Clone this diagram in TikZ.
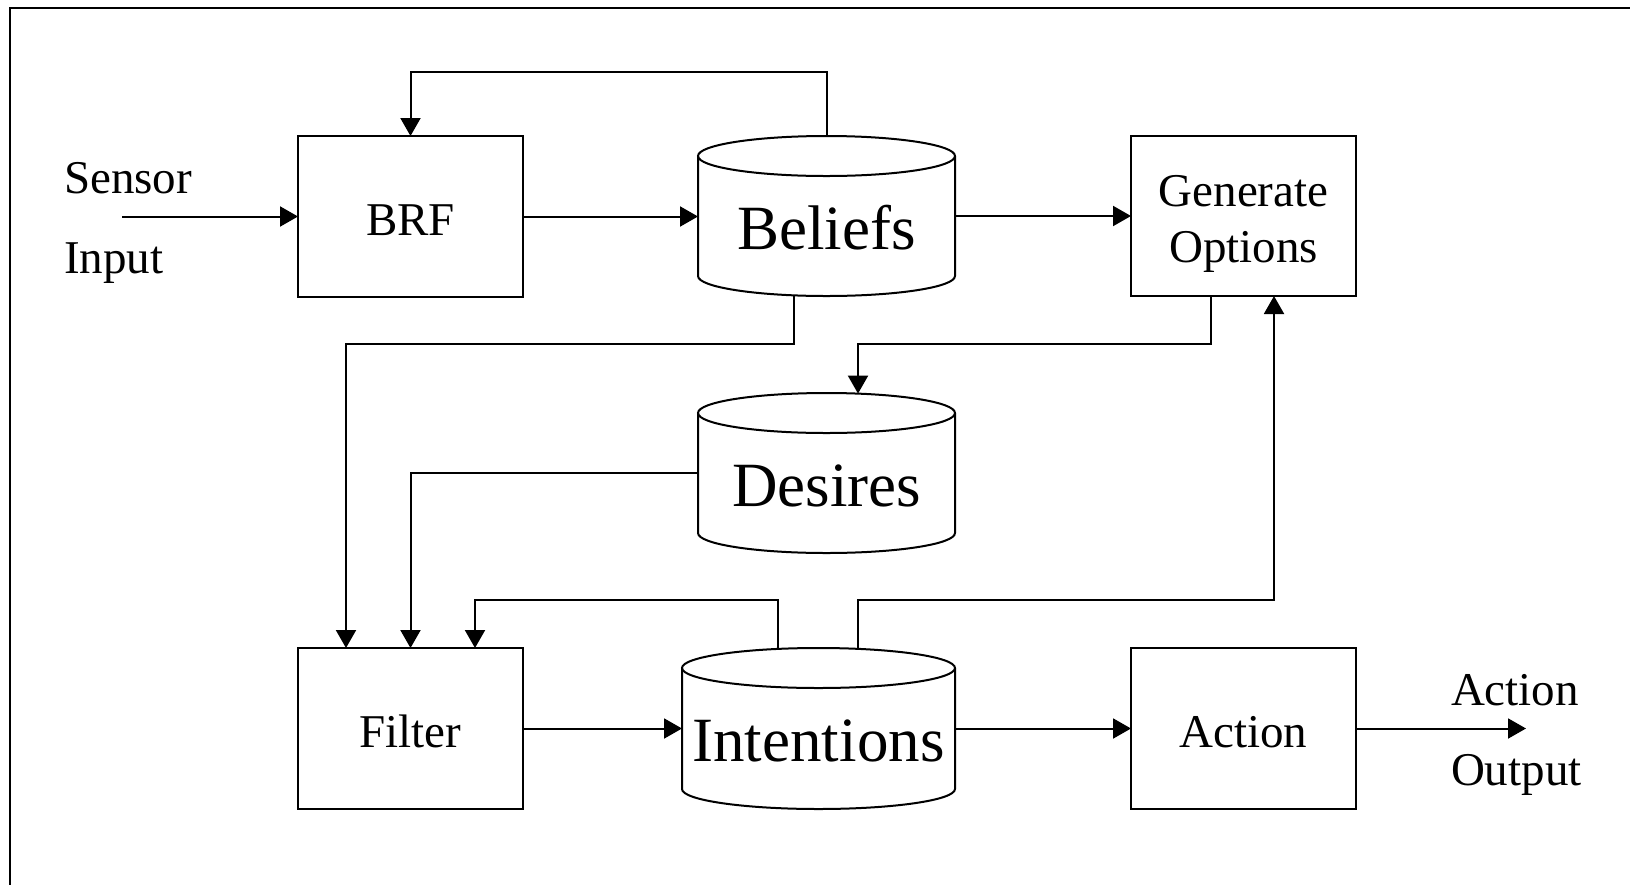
\documentclass[tikz,border=0pt]{standalone}
\usepackage{fontspec}
\setmainfont{Liberation Serif}
\usetikzlibrary{arrows.meta,calc}

% outline of a data store drawn round a named rectangle node:
% #1 node name, #2 half width of the ellipse
\newcommand\storeoutline[2]{%
  \draw ($(#1.north west)+(0,20)$) -- ($(#1.south west)+(0,-20)$)
     arc[start angle=180, end angle=360, x radius=#2, y radius=10pt]
     -- ($(#1.north east)+(0,20)$);
  \draw ($(#1.north)+(0,20)$) ellipse[x radius=#2, y radius=10pt];
}

\begin{document}
\begin{tikzpicture}[x=0.5pt, y=-0.5pt, line width=1pt,
  conn/.style={-{Triangle[length=9pt,width=10pt]}},
  proc/.style={draw, rectangle, minimum width=112.5pt, minimum height=80.5pt,
    inner sep=0pt, outer sep=0pt, font=\fontsize{23.5}{27.5}\selectfont},
  oneline/.style={text height=18.5pt, text depth=0pt},
  store/.style={rectangle, minimum height=80pt, inner sep=0pt, outer sep=0pt,
    text height=33pt, text depth=0pt, font=\fontsize{31.5}{36}\selectfont},
  plain/.style={anchor=base west, inner sep=0pt, font=\fontsize{23.5}{27.5}\selectfont}]

\useasboundingbox (0,0) rectangle (1630,885);
\draw[line width=1.3pt] (1630,8) -- (10,8) -- (10,885);

% process boxes
\node[proc, oneline] (brf) at (410.5,216.5) {BRF};
\node[proc, minimum height=80pt, align=center] (gen) at (1243.5,216)
  {\rule{0pt}{23pt}Generate\\[0.5pt]Options};
\node[proc, oneline] (fil) at (410.5,728.5) {Filter};
\node[proc, oneline] (act) at (1243.5,728.5) {Action};

% data stores
\node[store, minimum width=128.5pt] (bel) at (826.5,216) {Beliefs};
\node[store, minimum width=128.5pt] (des) at (826.5,473) {Desires};
\node[store, minimum width=136.5pt, minimum height=80.5pt] (int) at (818.5,728.5) {Intentions};
\storeoutline{bel}{64.25pt}
\storeoutline{des}{64.25pt}
\storeoutline{int}{68.25pt}

% outside labels
\node[plain] (sen) at (63,193) {Sensor};
\node[plain] (inp) at (63,273) {Input};
\node[plain] (aol) at (1450,705) {Action};
\node[plain] (ool) at (1450,785) {Output};
\coordinate (sin) at (122,216.5);
\coordinate (aout) at (1526,728.5);

% main flow
\draw[conn] (sin) -- (brf.west);
\draw[conn] (brf.east) -- (brf.east -| bel.west);
\draw[conn] (bel.east) -- (gen.west);
\draw[conn] (fil.east) -- (fil.east -| int.west);
\draw[conn] (int.east) -- (act.west);
\draw[conn] (act.east) -- (aout);

% feedback and side paths
\draw[conn] ($(bel.north)+(0.5,0)$) -- ++(0,-64) -| (brf.north);
\draw[conn] ($(bel.south)+(-32.5,-0.6)$) -- ++(0,48.6) -| ($(fil.north west)+(48,0)$);
\draw[conn] ($(gen.south)+(-33,0)$) -- ++(0,48) -| ($(des.north)+(31.5,0.6)$);
\draw[conn] (des.west) -| (fil.north);
\draw[conn] ($(int.north)+(-40.5,0.9)$) -- ++(0,-48.9) -| ($(fil.north east)+(-48,0)$);
\draw[conn] ($(int.north)+(39.5,0.9)$) -- ++(0,-48.9) -| ($(gen.south)+(30.5,0)$);
\end{tikzpicture}
\end{document}
